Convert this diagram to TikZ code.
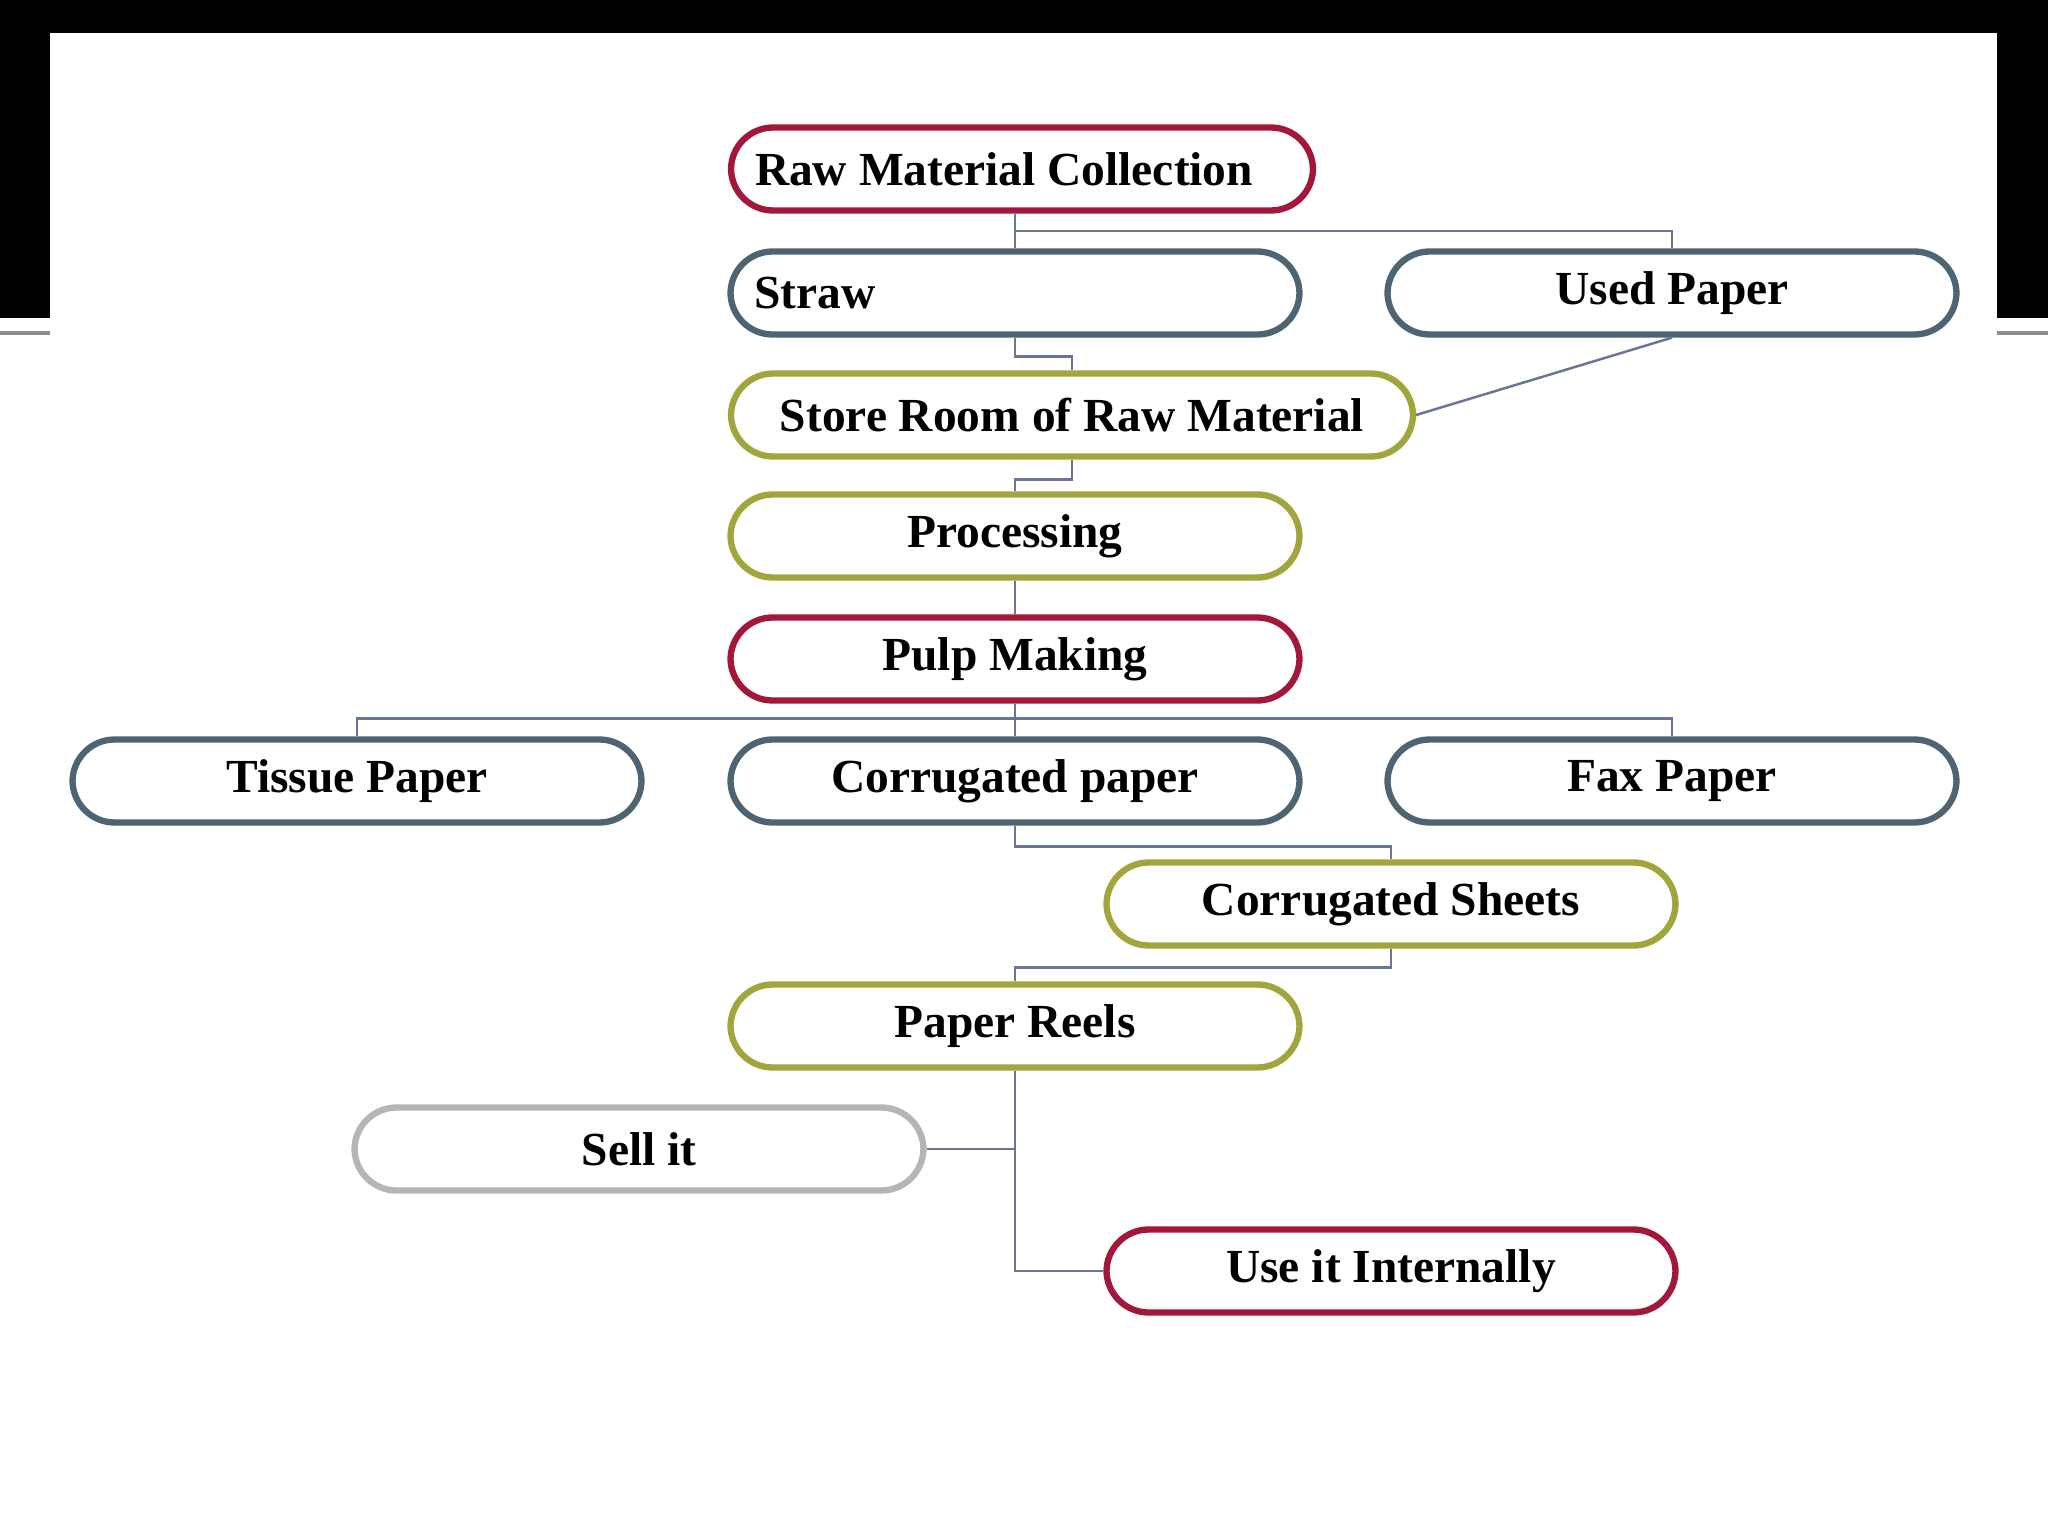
\documentclass[tikz,border=0pt]{standalone}
\usepackage{fontspec}
\setmainfont{Liberation Serif}
\usetikzlibrary{positioning,calc}
\definecolor{stepred}{HTML}{A3173B}
\definecolor{stepslate}{HTML}{4E6472}
\definecolor{stepolive}{HTML}{A2A53C}
\definecolor{stepgray}{HTML}{B5B5B5}
\definecolor{linkblue}{HTML}{6B7396}
\definecolor{rulegray}{HTML}{8C8C8C}
\tikzset{
  stage/.style={draw, fill=white, line width=1.8pt, rounded corners=12pt,
                minimum width=5.69cm, minimum height=0.83cm, inner sep=0pt,
                align=center, font=\fontsize{13.5}{16}\selectfont\bfseries},
  redstage/.style={stage, draw=stepred},
  slatestage/.style={stage, draw=stepslate},
  olivestage/.style={stage, draw=stepolive},
  graystage/.style={stage, draw=stepgray},
  link/.style={draw=linkblue, line width=0.7pt}
}

\begin{document}
\begin{tikzpicture}[x=1cm,y=1cm]
  \useasboundingbox (0,0) rectangle (20.48,-15.36);
  \fill[white] (0,0) rectangle (20.48,-15.36);
  % slide frame
  \fill[black] (0,0) rectangle (20.48,-0.33);
  \fill[black] (0,0) rectangle (0.50,-3.18);
  \fill[black] (19.97,0) rectangle (20.48,-3.18);
  \fill[rulegray] (0,-3.31) rectangle (0.50,-3.35);
  \fill[rulegray] (19.97,-3.31) rectangle (20.48,-3.35);

  % stages
  \node[redstage,minimum width=5.82cm,text width=5.34cm,align=flush left] (rmc) at (10.22,-1.69) {Raw Material Collection};
  \node[slatestage,text width=5.21cm,align=flush left] (straw) at (10.15,-2.93) {Straw};
  \node[slatestage] (used) at (16.72,-2.93) {Used Paper};
  \node[olivestage,minimum width=6.82cm] (store) at (10.72,-4.15) {Store Room of Raw Material};
  \node[olivestage] (proc) at (10.15,-5.36) {Processing};
  \node[redstage] (pulp) at (10.15,-6.59) {Pulp Making};
  \node[slatestage] (tissue) at (3.57,-7.81) {Tissue Paper};
  \node[slatestage] (corr) at (10.15,-7.81) {Corrugated paper};
  \node[slatestage] (fax) at (16.72,-7.81) {Fax Paper};
  \node[olivestage] (sheets) at (13.91,-9.04) {Corrugated Sheets};
  \node[olivestage] (reels) at (10.15,-10.26) {Paper Reels};
  \node[graystage] (sell) at (6.39,-11.49) {Sell it};
  \node[redstage] (inside) at (13.91,-12.71) {Use it Internally};

  % connectors
  \coordinate (j1) at ($(rmc.south -| straw.north)!0.5!(straw.north)$);
  \draw[link] (rmc.south -| straw.north) -- (straw.north);
  \draw[link] (j1) -| (used.north);
  \draw[link] (straw.south) -- ++(0,-0.19) -| (store.north);
  \draw[link] (used.south) -- (store.east);
  \draw[link] (store.south) -- ++(0,-0.2) -| (proc.north);
  \draw[link] (proc.south) -- (pulp.north);
  \coordinate (j2) at ($(pulp.south)!0.45!(corr.north)$);
  \draw[link] (pulp.south) -- (corr.north);
  \draw[link] (tissue.north) |- (j2) -| (fax.north);
  \draw[link] (corr.south) -- ++(0,-0.21) -| (sheets.north);
  \draw[link] (sheets.south) -- ++(0,-0.19) -| (reels.north);
  \draw[link] (reels.south) |- (inside.west);
  \draw[link] (sell.east) -- (sell.east -| reels.south);
\end{tikzpicture}
\end{document}
